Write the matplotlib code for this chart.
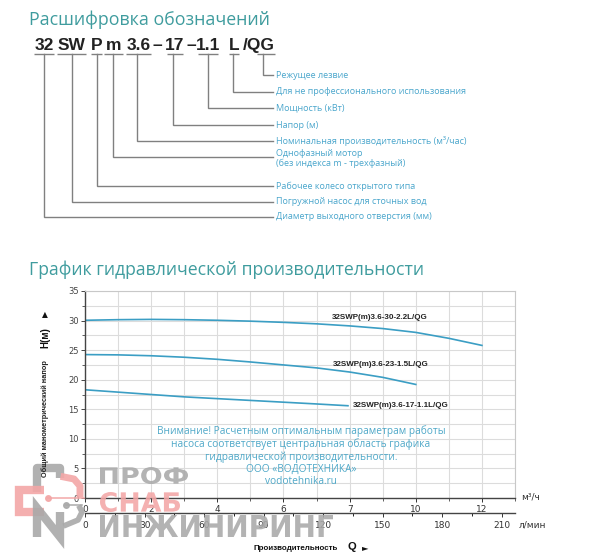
import matplotlib
matplotlib.use("Agg")
import matplotlib.pyplot as plt
from matplotlib.textpath import TextPath
from matplotlib.patches import PathPatch
from matplotlib.font_manager import FontProperties
from matplotlib.transforms import Affine2D
from matplotlib.ticker import MultipleLocator, FixedLocator

# ---------------- data ----------------
Q_top = [0, 1, 2, 3, 4, 5, 6, 7, 8, 9, 10, 11, 12]
H_top = [30.05, 30.15, 30.2, 30.15, 30.05, 29.9, 29.7, 29.45, 29.1, 28.65, 28.0, 27.0, 25.8]
Q_mid = [0, 1, 2, 3, 4, 5, 6, 7, 8, 9, 10]
H_mid = [24.25, 24.2, 24.05, 23.8, 23.45, 23.0, 22.5, 22.0, 21.3, 20.4, 19.2]
Q_bot = [0, 1, 2, 3, 4, 5, 6, 7, 7.95]
H_bot = [18.3, 17.9, 17.5, 17.1, 16.8, 16.5, 16.2, 15.9, 15.6]
series_names = ["32SWP(m)3.6-30-2.2L/QG", "32SWP(m)3.6-23-1.5L/QG", "32SWP(m)3.6-17-1.1L/QG"]

x_ticks = [0, 2, 4, 6, 8, 10, 12]
x_ticklabels = ["0", "2", "4", "6", "7", "10", "12"]
y_ticks = [0, 5, 10, 15, 20, 25, 30, 35]
lmin_ticks = [0, 30, 60, 90, 120, 150, 180, 210]

code_tokens = ["32", "SW", "P", "m", "3.6", "17", "1.1", "L", "/QG"]
code_labels = ["Диаметр выходного отверстия (мм)",
               "Погружной насос для сточных вод",
               "Рабочее колесо открытого типа",
               "Однофазный мотор\n(без индекса m - трехфазный)",
               "Номинальная производительность (м³/час)",
               "Напор (м)",
               "Мощность (кВт)",
               "Для не профессионального использования",
               "Режущее лезвие"]

note_text = ("Внимание! Расчетным оптимальным параметрам работы\n"
             "насоса соответствует центральная область графика\n"
             "гидравлической производительности.\n"
             "ООО «ВОДОТЕХНИКА»\n"
             "vodotehnika.ru")

TEAL = "#3f9c9e"
BLUE_TXT = "#4aa6cc"
CURVE = "#3b9ec4"
GRAY_LINE = "#808080"

W, H = 600, 558
fig = plt.figure(figsize=(6.0, 5.58), dpi=100)
fig.patch.set_facecolor("white")

# ---------------- chart ----------------
ax = fig.add_axes([85 / W, (H - 498) / H, 430 / W, 207 / H], zorder=1)
ax.plot(Q_top, H_top, color=CURVE, lw=1.2)
ax.plot(Q_mid, H_mid, color=CURVE, lw=1.2)
ax.plot(Q_bot, H_bot, color=CURVE, lw=1.2)
ax.set_xlim(0, 13)
ax.set_ylim(0, 35)
ax.xaxis.set_major_locator(FixedLocator(x_ticks))
ax.set_xticklabels(x_ticklabels)
ax.xaxis.set_minor_locator(MultipleLocator(1))
ax.set_yticks(y_ticks)
ax.yaxis.set_minor_locator(MultipleLocator(2.5))
ax.grid(True, which="both", color="#dcdcdc", lw=0.8)
ax.set_axisbelow(True)
for s in ["top", "right"]:
    ax.spines[s].set_color("#c8c8c8")
    ax.spines[s].set_linewidth(0.8)
for s in ["left", "bottom"]:
    ax.spines[s].set_color("#444444")
    ax.spines[s].set_linewidth(1.0)
ax.tick_params(axis="y", which="major", labelsize=6, colors="#444444", length=3, width=0.7, pad=1.5)
ax.tick_params(axis="y", which="minor", length=2, width=0.6, colors="#444444")
ax.tick_params(axis="x", which="major", labelsize=6.5, colors="#333333", length=3, width=0.7, pad=2)
ax.tick_params(axis="x", which="minor", length=2, width=0.6, colors="#444444")

sec = ax.secondary_xaxis(-0.0725, functions=(lambda q: q * 1000 / 60, lambda l: l * 60 / 1000))
sec.set_xticks(lmin_ticks)
sec.xaxis.set_minor_locator(MultipleLocator(15))
sec.spines["bottom"].set_color("#444444")
sec.spines["bottom"].set_linewidth(1.0)
sec.tick_params(which="major", labelsize=6.5, colors="#333333", length=3, width=0.7, pad=3)
sec.tick_params(which="minor", length=2, width=0.6)

lab_font = dict(family="Liberation Sans", fontweight="bold", fontsize=5.8, color="#222222")
ax.text(7.47, 30.6, series_names[0], va="center", ha="left", **lab_font)
ax.text(7.50, 22.5, series_names[1], va="center", ha="left", **lab_font)
ax.text(8.10, 15.7, series_names[2], va="center", ha="left", **lab_font)

ax.text(6.53, 7.1, note_text, ha="center", va="center", fontsize=7.3, color="#4ea8c8",
        family="Open Sans", linespacing=1.12)

# ---------------- overlay (pixel coords) ----------------
ov = fig.add_axes([0, 0, 1, 1], zorder=5)
ov.set_xlim(0, W)
ov.set_ylim(H, 0)
ov.axis("off")
ov.patch.set_alpha(0)

# axis unit labels / titles
ov.text(521, 497, "м³/ч", fontsize=6.5, color="#333333", va="center", ha="left", family="DejaVu Sans")
ov.text(519, 525, "л/мин", fontsize=6.5, color="#333333", va="center", ha="left", family="DejaVu Sans")
ov.text(253, 548, "Производительность", fontsize=5.8, fontweight="bold", color="#111111",
        va="center", ha="left", family="Liberation Sans")
ov.text(348, 547, "Q", fontsize=8, fontweight="bold", color="#111111", va="center", ha="left",
        family="Liberation Sans")
ov.text(362, 548, "►", fontsize=6, color="#111111", va="center", ha="left", family="DejaVu Sans")

ov.text(45, 419, "Общий манометрический напор", rotation=90, fontsize=5.3, fontweight="bold",
        color="#222222", va="center", ha="center", family="Liberation Sans")
ov.text(45, 338, "H(м)", rotation=90, fontsize=7, fontweight="bold",
        color="#111111", va="center", ha="center", family="Liberation Sans")
ov.text(45, 315, "▲", fontsize=5.5, color="#111111", va="center", ha="center", family="DejaVu Sans")

ov.text(29, 20, "Расшифровка обозначений", fontsize=12.8, color=TEAL, va="center", ha="left",
        family="Open Sans")
ov.text(29, 270, "График гидравлической производительности", fontsize=12.7, color=TEAL,
        va="center", ha="left", family="Open Sans")

# code line
tok_x = [44, 72, 97, 113.5, 138.5, 175, 208, 234, 259]
tok_ul = [(34, 54), (57, 86), (91, 102), (104, 123), (126, 151), (167, 183), (198, 218), (229, 239), (257, 275)]
line_x = [44, 72, 97, 113, 137, 173, 208, 233, 263]
row_y = [216.7, 201.7, 186, 157, 140.5, 125, 107.5, 91.7, 75]
for t, x in zip(code_tokens, tok_x):
    ov.text(x, 50, t, fontsize=12.5, fontweight="bold", color="#222222", ha="center",
            va="baseline", family="Liberation Sans")
for x in (157, 191):
    ov.text(x, 50, "–", fontsize=12.5, fontweight="bold", color="#222222", ha="center",
            va="baseline", family="Liberation Sans")
for a, b in tok_ul:
    ov.plot([a, b], [54, 54], color=GRAY_LINE, lw=1.0, solid_capstyle="butt")
for x, y, lab in zip(line_x, row_y, code_labels):
    ov.plot([x, x, 273], [54, y, y], color=GRAY_LINE, lw=1.0, solid_joinstyle="miter")
    ty = y + 1.5 if "\n" in lab else y
    ov.text(276, ty, lab, fontsize=6.5, color=BLUE_TXT, va="center", ha="left",
            family="Open Sans", linespacing=1.05)

# ---------------- watermark ----------------
WM_GRAY = "#a9a9a9"
WM_RED = "#f3a6a6"


def fit_text(s, x0, x1, y_top, y_bot, color):
    tp = TextPath((0, 0), s, size=10, prop=FontProperties(family="DejaVu Sans", weight="bold"))
    ext = tp.get_extents()
    tr = (Affine2D().translate(-ext.x0, -ext.y0)
          .scale((x1 - x0) / ext.width, -(y_bot - y_top) / ext.height)
          .translate(x0, y_bot))
    p = tr.transform_path(tp)
    ov.add_patch(PathPatch(p, facecolor=color, edgecolor="none", alpha=0.88))


fit_text("ПРОФ", 100, 188, 467, 484, WM_GRAY)
fit_text("СНАБ", 100, 180, 492, 512, WM_RED)
fit_text("ИНЖИНИРИНГ", 100, 333, 515, 537, WM_GRAY)

lw_logo = 6.0
# gray arch
ov.plot([37, 37, 60, 60], [492, 468, 468, 478], color=WM_GRAY, lw=lw_logo, alpha=0.9,
        solid_joinstyle="round", solid_capstyle="butt")
# red C bracket
ov.plot([44, 19, 19, 44], [490, 490, 512, 512], color=WM_RED, lw=lw_logo, alpha=0.9,
        solid_joinstyle="miter", solid_capstyle="butt")
# red gear arc & line
ov.plot([64, 74, 80, 80], [477, 479, 486, 494], color=WM_RED, lw=5, alpha=0.9,
        solid_joinstyle="round")
ov.plot([48, 84], [498, 498], color=WM_RED, lw=1.2, alpha=0.9)
ov.plot([48], [498], "o", color=WM_RED, ms=4, alpha=0.9)
# gray И
ov.plot([37, 37, 60, 60], [537, 508, 537, 512], color=WM_GRAY, lw=lw_logo, alpha=0.9,
        solid_joinstyle="miter", solid_capstyle="butt")
ov.plot([66, 82], [505, 505], color=WM_GRAY, lw=1.2, alpha=0.9)
ov.plot([66], [505], "o", color=WM_GRAY, ms=4, alpha=0.9)
ov.plot([66, 78, 82, 80], [525, 520, 512, 508], color=WM_GRAY, lw=4, alpha=0.9,
        solid_joinstyle="round")

fig.savefig("out.png", dpi=100, facecolor="white")
